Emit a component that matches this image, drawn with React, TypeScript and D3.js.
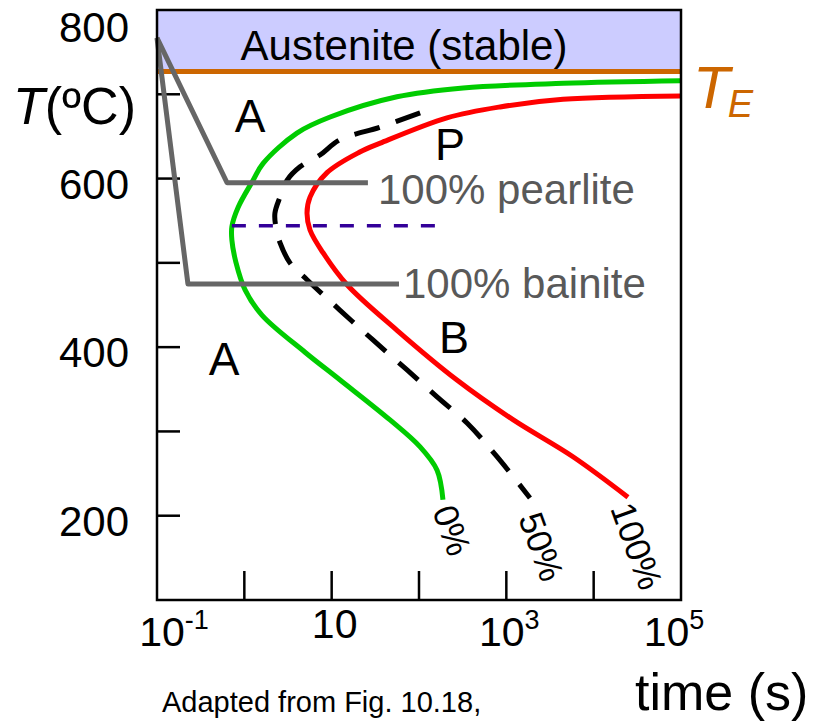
import React from "react";
import * as d3 from "d3";

const W = 816;
const H = 723;

// axis values
const xTickValues = [1, 10, 100, 1000, 10000];
const yTickValues = [700, 600, 500, 400, 300, 200];
const yLabelValues = [800, 600, 400, 200];
const xLabelValues = [0.1, 10, 1000, 100000];
const xLabelExponents = ["-1", "", "3", "5"];

// temperatures
const T_EUTECTOID = 727;
const T_MAX = 800;
const T_NOSE = 544;

// transformation curves: [time (s), T (°C)]
const curve0: [number, number][] = [
  [100000, 716], [4500, 713], [320, 707.5], [56, 697], [9.6, 673], [4.0, 654],
  [1.64, 618], [1.26, 598], [0.85, 566], [0.72, 543], [0.72, 527], [0.8, 501],
  [1.02, 468], [1.59, 438], [4.95, 394], [12.5, 361], [46.6, 313.6],
  [103, 281.6], [161, 254], [188, 219],
];
const curve50: [number, number][] = [
  [103, 678], [36, 661], [12.4, 646], [7.35, 628], [4.34, 614], [3.08, 598],
  [2.56, 578], [2.24, 559], [2.31, 541], [2.56, 524], [3.33, 500], [5.22, 480],
  [12.4, 444], [29.7, 408.5], [73, 373], [161, 341], [355, 310], [782, 270],
  [1866, 221],
];
const curve100: [number, number][] = [
  [100000, 698], [4457, 694], [847, 685], [209, 672], [36, 642], [21, 631.5],
  [8.85, 607], [5.65, 578], [5.22, 559], [5.65, 539], [7.96, 512], [15, 474],
  [56, 420], [272, 361], [1191, 314], [5795, 270], [24700, 222],
];
const curveLabels = ["0%", "50%", "100%"];

// cooling paths
const pearlitePath: [number, number][] = [[0.1, 767], [0.634, 595], [26, 595]];
const bainitePath: [number, number][] = [[0.1, 767], [0.226, 475], [59, 475]];
const noseLine: [number, number][] = [[0.72, T_NOSE], [199, T_NOSE]];

const FONT = "'Liberation Sans', Arial, Helvetica, sans-serif";

export default function App() {
  const x = d3.scaleLog().domain([0.1, 100000]).range([157, 681]);
  const y = d3.scaleLinear().domain([100, 800]).range([600, 10]);

  const smooth = d3
    .line<[number, number]>()
    .x((d) => x(d[0]))
    .y((d) => y(d[1]))
    .curve(d3.curveCatmullRom.alpha(0.5));
  const straight = d3
    .line<[number, number]>()
    .x((d) => x(d[0]))
    .y((d) => y(d[1]));

  const [x0, x1] = x.range();
  const [yb, yt] = y.range();

  const curves = [
    { data: curve0, color: "#00CC00", dash: undefined, off: [-11, 11] },
    { data: curve50, color: "#000000", dash: "26 17", off: [-12, 20] },
    { data: curve100, color: "#FF0000", dash: undefined, off: [-18, 11] },
  ];

  return (
    <svg
      width={W}
      height={H}
      style={{ position: "absolute", left: 0, top: 0, background: "#fff" }}
      fontFamily={FONT}
    >
      {/* austenite region */}
      <rect
        x={x0}
        y={y(T_MAX)}
        width={x1 - x0}
        height={y(T_EUTECTOID) - y(T_MAX)}
        fill="#CCCCFF"
      />
      <text x={404} y={60} fontSize={42} textAnchor="middle" fill="#000">
        Austenite (stable)
      </text>
      <line
        x1={x0}
        x2={x1}
        y1={y(T_EUTECTOID)}
        y2={y(T_EUTECTOID)}
        stroke="#CC6600"
        strokeWidth={5}
      />
      <text x={693} y={108} fill="#CC6600" fontStyle="italic" fontSize={60}>
        T
        <tspan fontSize={38} dx={-2} dy={9}>
          E
        </tspan>
      </text>

      {/* ticks */}
      {yTickValues.map((v) => (
        <line key={"yt" + v} x1={x0} x2={x0 + 23} y1={y(v)} y2={y(v)} stroke="#000" strokeWidth={2.5} />
      ))}
      {xTickValues.map((v) => (
        <line key={"xt" + v} x1={x(v)} x2={x(v)} y1={yb} y2={yb - 29} stroke="#000" strokeWidth={2.5} />
      ))}

      {/* transformation curves */}
      {curves.map((c, i) => (
        <path
          key={"c" + i}
          d={smooth(c.data) || ""}
          fill="none"
          stroke={c.color}
          strokeWidth={5}
          strokeDasharray={c.dash}
        />
      ))}
      {curves.map((c, i) => {
        const last = c.data[c.data.length - 1];
        const px = x(last[0]) + c.off[0];
        const py = y(last[1]) + c.off[1];
        return (
          <text
            key={"cl" + i}
            x={px}
            y={py}
            fontSize={35}
            transform={`rotate(70 ${px} ${py})`}
            fill="#000"
          >
            {curveLabels[i]}
          </text>
        );
      })}

      {/* nose line */}
      <path d={straight(noseLine) || ""} stroke="#330099" strokeWidth={3.5} strokeDasharray="14 13" fill="none" />

      {/* cooling paths */}
      <path d={straight(pearlitePath) || ""} stroke="#666666" strokeWidth={5} fill="none" strokeLinejoin="round" />
      <path d={straight(bainitePath) || ""} stroke="#666666" strokeWidth={5} fill="none" strokeLinejoin="round" />
      <text x={378} y={204} fontSize={42} fill="#595959">100% pearlite</text>
      <text x={403} y={298} fontSize={42} fill="#595959">100% bainite</text>

      {/* region labels */}
      <text x={250} y={132} fontSize={46} textAnchor="middle">A</text>
      <text x={224} y={375} fontSize={46} textAnchor="middle">A</text>
      <text x={450} y={160} fontSize={45} textAnchor="middle">P</text>
      <text x={454} y={353} fontSize={45} textAnchor="middle">B</text>

      {/* frame */}
      <rect x={x0} y={yt} width={x1 - x0} height={yb - yt} fill="none" stroke="#000" strokeWidth={2.5} />

      {/* axis labels */}
      {yLabelValues.map((v) => (
        <text key={"yl" + v} x={129} y={Math.max(y(v) + 20, 42)} fontSize={42} textAnchor="end">
          {v}
        </text>
      ))}
      {xLabelValues.map((v, i) => {
        const exp = xLabelExponents[i];
        const cx = Math.min(Math.max(x(v) + 3, 174), 674);
        return (
          <text key={"xl" + v} x={cx} y={exp ? 646 : 638} fontSize={41} textAnchor="middle">
            10
            {exp && (
              <tspan fontSize={27} dy={-17}>
                {exp}
              </tspan>
            )}
          </text>
        );
      })}
      <text x={13} y={124} fontSize={52}>
        <tspan fontStyle="italic">T</tspan>(ºC)
      </text>
      <text x={635} y={710} fontSize={52}>time (s)</text>
      <text x={162} y={712} fontSize={29}>Adapted from Fig. 10.18,</text>
    </svg>
  );
}
